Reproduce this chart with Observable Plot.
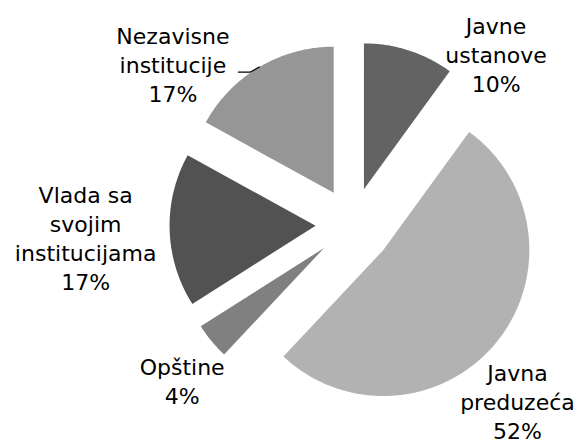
<!DOCTYPE html>
<html>
<head>
<meta charset="utf-8">
<script src="https://cdn.jsdelivr.net/npm/d3@7"></script>
<script src="https://cdn.jsdelivr.net/npm/@observablehq/plot@0.6"></script>
<style>
  html, body { margin: 0; padding: 0; background: #fff; }
  #chart svg { display: block; }
</style>
</head>
<body>
<div id="chart"></div>
<script>
// ---- data ----
const categories = ["Javne ustanove", "Javna preduzeća", "Opštine", "Vlada sa svojim institucijama", "Nezavisne institucije"];
const values = [10, 52, 4, 17, 17];
const labelLines = ["Javne\nustanove", "Javna\npreduzeća", "Opštine", "Vlada sa\nsvojim\ninstitucijama", "Nezavisne\ninstitucije"];
const colors = ["#636363", "#b2b2b2", "#808080", "#525252", "#969696"];

// ---- layout (pixels / pie-radius units) ----
const W = 578, H = 444;
const R = 146;                 // pie radius in px
const CX = 352, CY = 224;      // pie centre in px
const explode = [0.253, 0.274, 0.253, 0.253, 0.253]; // in radius units
const labelRadius = [1.53, 1.652, 1.58, 1.83, 1.65];
const labelTurn = [22, 7.25, -2.8, -1, -17.6];          // degrees from mid-angle

const total = d3.sum(values);
const rad = Math.PI / 180;
let acc = 0;
const slices = categories.map((name, i) => {
  const a0 = acc / total * 360;
  acc += values[i];
  const a1 = acc / total * 360;
  return {name, i, a0, a1, mid: (a0 + a1) / 2};
});

// polygon points in unit coordinates (x right, y up, angle clockwise from top)
const pts = [];
for (const s of slices) {
  const ox = explode[s.i] * Math.sin(s.mid * rad);
  const oy = explode[s.i] * Math.cos(s.mid * rad);
  pts.push({name: s.name, x: ox, y: oy});
  const n = Math.max(4, Math.ceil((s.a1 - s.a0) / 0.5));
  for (let k = 0; k <= n; k++) {
    const a = (s.a0 + (s.a1 - s.a0) * k / n) * rad;
    pts.push({name: s.name, x: ox + Math.sin(a), y: oy + Math.cos(a)});
  }
}

const labels = slices.map(s => {
  const a = (s.mid + labelTurn[s.i]) * rad;
  return {
    name: s.name,
    x: labelRadius[s.i] * Math.sin(a),
    y: labelRadius[s.i] * Math.cos(a),
    text: labelLines[s.i] + "\n" + values[s.i] + "%"
  };
});

// leader line for "Nezavisne institucije": from the arc at mid-angle to the label
const nz = slices[4];
const nzo = {x: explode[4] * Math.sin(nz.mid * rad), y: explode[4] * Math.cos(nz.mid * rad)};
const tip = {x: nzo.x + Math.sin(nz.mid * rad), y: nzo.y + Math.cos(nz.mid * rad)};
const leader = [
  tip,
  {x: tip.x - 9 / R, y: tip.y - 5 / R},
  {x: tip.x - 21 / R, y: tip.y - 5 / R}
];

const chart = Plot.plot({
  width: W,
  height: H,
  margin: 0,
  x: {domain: [-CX / R, (W - CX) / R], axis: null},
  y: {domain: [-(H - CY) / R, CY / R], axis: null},
  color: {domain: categories, range: colors},
  style: {fontFamily: "DejaVu Sans", background: "#fff"},
  marks: [
    Plot.line(pts, {x: "x", y: "y", z: "name", fill: "name", stroke: null, curve: "linear-closed"}),
    Plot.line(leader, {x: "x", y: "y", stroke: "#000", strokeWidth: 1.3}),
    Plot.text(labels, {
      x: "x", y: "y", text: "text",
      fontSize: 22, lineHeight: 1.32, lineAnchor: "middle", textAnchor: "middle",
      fill: "#000"
    })
  ]
});
document.getElementById("chart").appendChild(chart);
</script>
</body>
</html>
